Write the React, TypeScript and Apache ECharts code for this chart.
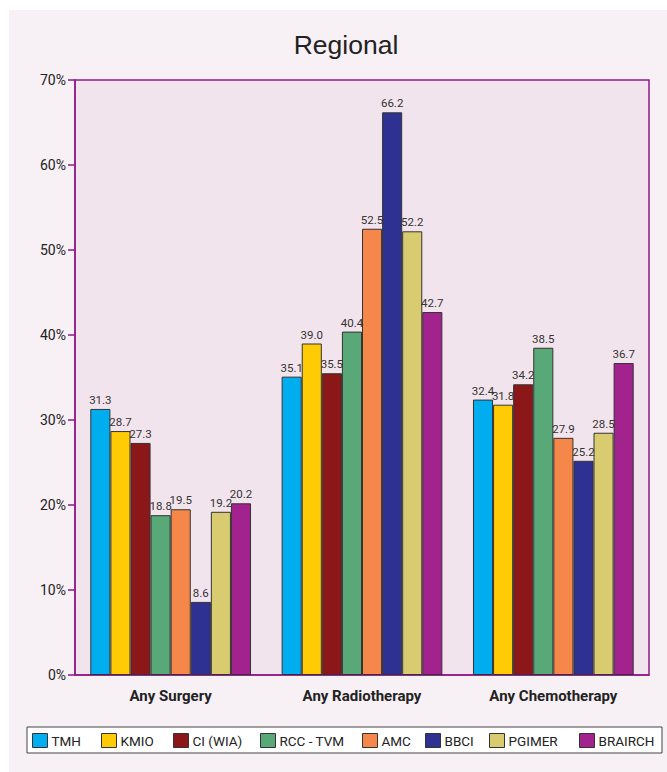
import React, { useEffect, useRef } from "react";
import * as echarts from "echarts";

const categories = ["Any Surgery", "Any Radiotherapy", "Any Chemotherapy"];
const seriesNames = ["TMH", "KMIO", "CI (WIA)", "RCC - TVM", "AMC", "BBCI", "PGIMER", "BRAIRCH"];
const seriesColors = ["#00aeef", "#ffcb05", "#8b1719", "#58a878", "#f5874a", "#2e3191", "#d9cc70", "#a3238e"];
const tmh = [31.3, 35.1, 32.4];
const kmio = [28.7, 39.0, 31.8];
const ciWia = [27.3, 35.5, 34.2];
const rccTvm = [18.8, 40.4, 38.5];
const amc = [19.5, 52.5, 27.9];
const bbci = [8.6, 66.2, 25.2];
const pgimer = [19.2, 52.2, 28.5];
const brairch = [20.2, 42.7, 36.7];
const seriesValues = [tmh, kmio, ciWia, rccTvm, amc, bbci, pgimer, brairch];
const legendLeft = [32, 101, 173, 260, 362, 425, 489, 579];

const FONT = "Roboto, 'Liberation Sans', sans-serif";

export default function App() {
  const ref = useRef<HTMLDivElement>(null);
  useEffect(() => {
    if (!ref.current) return;
    const chart = echarts.init(ref.current, null, { renderer: "svg" });
    const option: any = {
      animation: false,
      backgroundColor: "#ffffff",
      title: {
        text: "Regional",
        left: 341,
        textAlign: "center",
        top: 26,
        textStyle: { fontFamily: "'Liberation Sans', Arial, sans-serif", fontSize: 26.5, fontWeight: "normal", color: "#222" },
      },
      graphic: [
        { type: "rect", z: -10, silent: true, shape: { x: 9, y: 10, width: 660, height: 770 }, style: { fill: "#f7f0f5" } },
        { type: "rect", z: -5, silent: true, shape: { x: 27, y: 727, width: 635, height: 26 }, style: { fill: "#ffffff", stroke: "#444", lineWidth: 1 } },
      ],
      grid: {
        left: 75, top: 80, right: 18, bottom: 97,
        show: true, backgroundColor: "#f2e4ec", borderColor: "#8e1a8a", borderWidth: 1.5,
      },
      legend: seriesNames.map((n, i) => ({
        data: [n],
        left: legendLeft[i],
        top: 733,
        padding: 0,
        itemWidth: 15,
        itemHeight: 14,
        itemGap: 4,
        icon: "rect",
        itemStyle: { borderColor: "#333", borderWidth: 1 },
        textStyle: { fontFamily: FONT, fontSize: 13.5, color: "#222", padding: [0, 0, 0, -1] },
      })),
      xAxis: {
        type: "category",
        data: categories,
        axisTick: { show: false },
        axisLine: { lineStyle: { color: "#8e1a8a", width: 1.5 } },
        axisLabel: { fontFamily: FONT, fontSize: 15, fontWeight: "bold", color: "#222", margin: 13 },
      },
      yAxis: {
        type: "value",
        min: 0, max: 70, interval: 10,
        splitLine: { show: false },
        axisLine: { show: true, lineStyle: { color: "#8e1a8a", width: 1.5 } },
        axisTick: { show: true, length: 7, lineStyle: { color: "#8e1a8a", width: 1.5 } },
        axisLabel: { formatter: "{value}%", fontFamily: FONT, fontSize: 14, color: "#222", margin: 9 },
      },
      series: seriesNames.map((n, i) => ({
        name: n,
        type: "bar",
        data: seriesValues[i],
        barGap: "0%",
        barCategoryGap: "16%",
        itemStyle: { color: seriesColors[i], borderColor: "#333", borderWidth: 1 },
        label: {
          show: true, position: "top", distance: 3,
          fontFamily: FONT, fontSize: 11.5, color: "#333",
          formatter: (p: any) => p.value.toFixed(1),
        },
      })),
    };
    chart.setOption(option);
    return () => chart.dispose();
  }, []);
  return <div ref={ref} style={{ position: "absolute", left: 0, top: 0, width: 667, height: 772 }} />;
}
